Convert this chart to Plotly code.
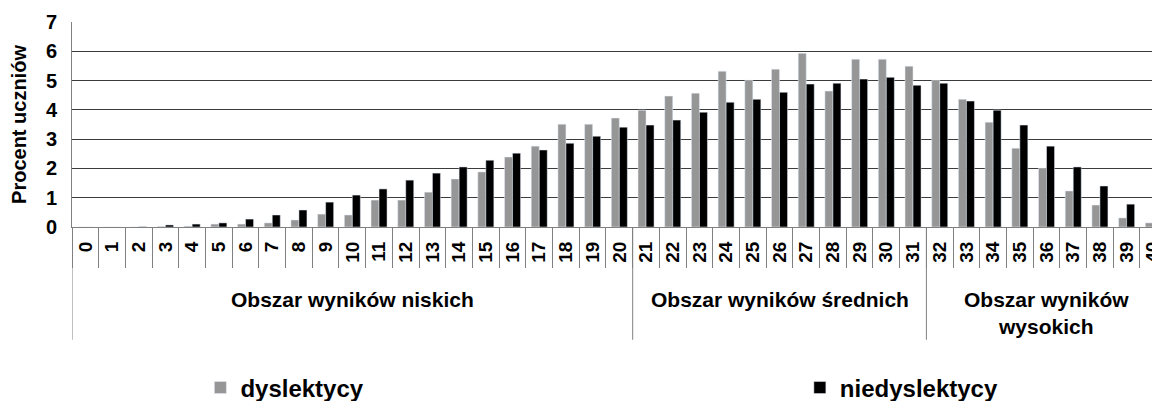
import plotly.graph_objects as go

scores = [str(i) for i in range(41)]

dyslektycy = [0, 0, 0, 0.02, 0.03, 0.1, 0.1, 0.14, 0.24, 0.44,
              0.41, 0.92, 0.92, 1.19, 1.64, 1.88, 2.39, 2.76, 3.51, 3.51,
              3.72, 3.99, 4.47, 4.57, 5.32, 5.01, 5.39, 5.93, 4.64, 5.73,
              5.73, 5.49, 5.01, 4.36, 3.58, 2.69, 2.01, 1.23, 0.75, 0.31,
              0.14]

niedyslektycy = [0, 0, 0.01, 0.07, 0.1, 0.14, 0.27, 0.41, 0.58, 0.85,
                 1.09, 1.30, 1.60, 1.84, 2.05, 2.28, 2.52, 2.63, 2.86, 3.10,
                 3.41, 3.48, 3.65, 3.92, 4.26, 4.36, 4.60, 4.88, 4.91, 5.05,
                 5.11, 4.84, 4.91, 4.30, 3.99, 3.48, 2.76, 2.05, 1.40, 0.78,
                 0.44]

groups = ["Obszar wyników niskich", "Obszar wyników średnich", "Obszar wyników<br>wysokich"]
group_sizes = [21, 11, 9]

FONT = "Liberation Sans, Arial, sans-serif"

fig = go.Figure()
fig.add_trace(go.Bar(x=scores, y=dyslektycy, name="dyslektycy", marker_color="#969696",
                     legend="legend", showlegend=True))
fig.add_trace(go.Bar(x=scores, y=niedyslektycy, name="niedyslektycy", marker_color="#000000",
                     legend="legend2", showlegend=True))

# group dividers and labels under the axis
start = 0
bounds = [-0.5]
for name, size in zip(groups, group_sizes):
    end = start + size
    bounds.append(end - 0.5)
    fig.add_annotation(x=(start + end - 1) / 2, y=-0.29, xref="x", yref="paper",
                       text=name, showarrow=False, yanchor="top",
                       font=dict(family=FONT, size=21, color="black", weight="bold"))
    start = end
for b in bounds:
    fig.add_shape(type="line", xref="x", yref="paper", x0=b, x1=b, y0=0, y1=-0.55,
                  line=dict(color="#808080", width=1))

legend_style = dict(orientation="h", y=-0.785, yanchor="middle", xanchor="left",
                    font=dict(family=FONT, size=24, color="black", weight="bold"),
                    bgcolor="rgba(0,0,0,0)")

# the page body adds an 8px offset, so the figure is 8px smaller than the window
fig.update_layout(
    width=1152, height=393,
    margin=dict(l=64, r=0, t=14, b=174, autoexpand=False),
    plot_bgcolor="white", paper_bgcolor="white",
    barmode="group", bargap=0.4, bargroupgap=0,
    showlegend=True,
    font=dict(family=FONT, color="black", weight="bold"),
    xaxis=dict(type="category", range=[-0.5, 40.25], tickangle=-90, automargin=False,
               tickson="boundaries", ticks="outside", ticklen=40, tickcolor="#808080",
               showline=True, linecolor="#808080", showgrid=False,
               tickfont=dict(family=FONT, size=19, color="black", weight="bold"),
               ticklabelstandoff=6),
    yaxis=dict(range=[0, 7], dtick=1, showgrid=True, gridcolor="#3c3c3c", automargin=False,
               showline=True, linecolor="#808080", zeroline=False,
               tickfont=dict(family=FONT, size=20, color="black", weight="bold"),
               ticklabelstandoff=10,
               title=dict(text="Procent uczniów", standoff=14,
                          font=dict(family=FONT, size=20, color="black", weight="bold"))),
    legend=dict(x=0.118, **legend_style),
    legend2=dict(x=0.669, **legend_style),
)

fig.write_html("out.html")
